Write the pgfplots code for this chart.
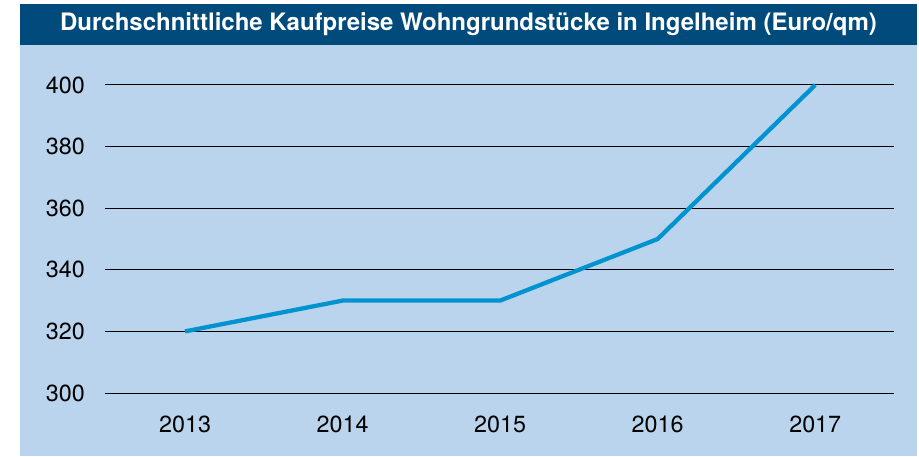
\documentclass[border=0pt]{standalone}
\usepackage{pgfplots}
\pgfplotsset{compat=1.18}
\usepackage{fontspec}
\setmainfont{TeX Gyre Heros}
\definecolor{bardark}{RGB}{0,74,124}
\definecolor{panel}{RGB}{185,212,236}
\definecolor{linec}{RGB}{0,147,208}
\begin{document}
\begin{tikzpicture}
% white margins / bounding box
\path[use as bounding box] (-78.75pt,-47.25pt) rectangle (610.5pt,294.75pt);
\fill[panel] (-63.75pt,-47.25pt) rectangle (609pt,291.75pt);
\fill[bardark] (-63.75pt,261pt) rectangle (609pt,291.75pt);
\node[text=white, font=\fontsize{18}{21}\selectfont\bfseries] at (272.6pt,276.4pt) {Durchschnittliche Kaufpreise Wohngrundstücke in Ingelheim (Euro/qm)};
\begin{axis}[
  at={(0pt,0pt)}, anchor=south west,
  scale only axis,
  width=591.75pt, height=231pt,
  xmin=2012.492, xmax=2017.5,
  ymin=300, ymax=400,
  axis line style={draw=none},
  xtick={2013,2014,2015,2016,2017},
  ytick={300,320,340,360,380,400},
  major tick length=0pt,
  ymajorgrids,
  grid style={black, line width=0.75pt},
  /pgf/number format/1000 sep={},
  /pgf/number format/assume math mode=true,
  ticklabel style={font=\fontsize{17.5}{20}\selectfont, text=black},
  yticklabel style={anchor=east, inner sep=0pt, xshift=-15pt},
  xticklabel style={anchor=center, inner sep=0pt, yshift=-23.25pt},
  clip=false,
]
\addplot[linec, line width=3.2pt, line join=round] coordinates {
  (2013,320) (2014,330) (2015,330) (2016,350) (2017,400)
};
\end{axis}
\end{tikzpicture}
\end{document}
